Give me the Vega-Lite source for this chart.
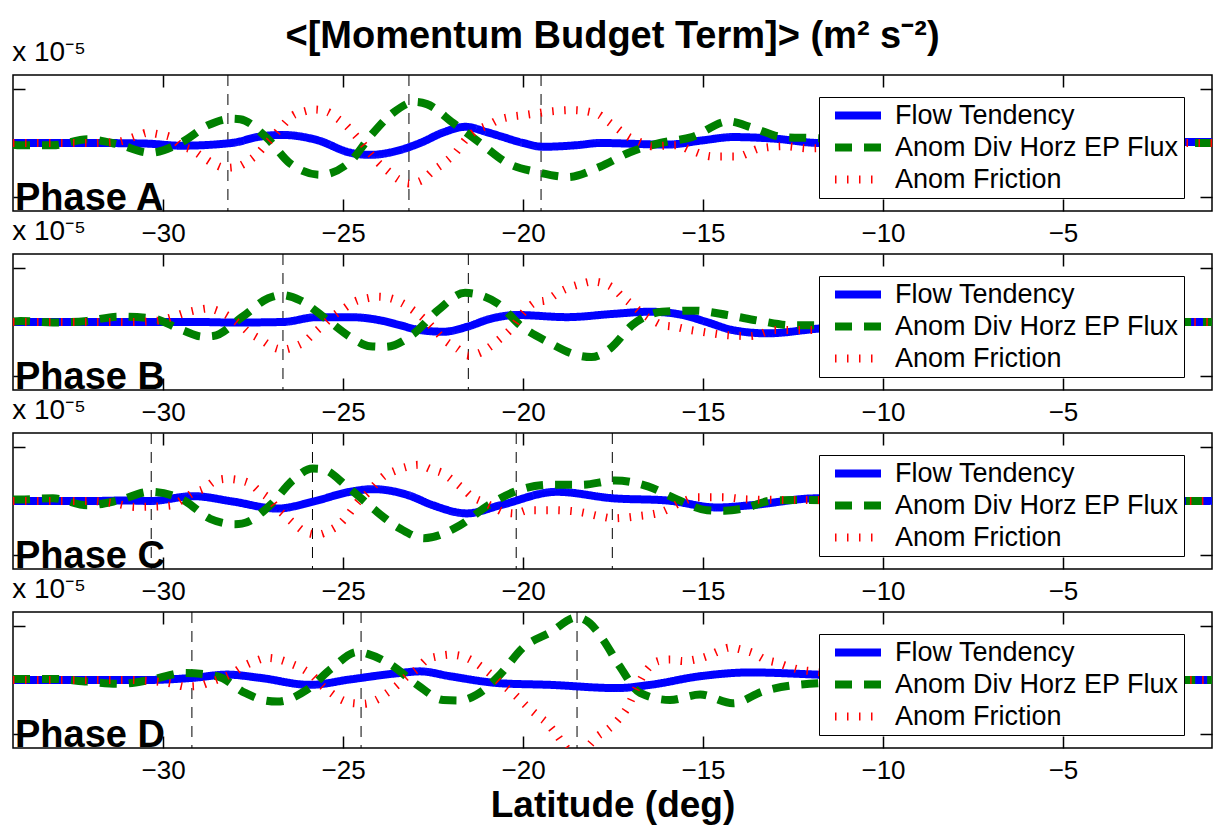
{
"$schema": "https://vega.github.io/schema/vega-lite/v6.json",
"background": "white",
"padding": {"left": 11, "top": 17, "right": 2, "bottom": 2},
"title": {"text": "<[Momentum Budget Term]> (m² s⁻²)", "fontSize": 38, "fontWeight": "bold", "anchor": "middle", "offset": -17, "color": "black", "font": "Liberation Sans"},
"spacing": 43,
"bounds": "flush",
"resolve": {"legend": {"color": "independent", "strokeDash": "independent"}},
"datasets": {
"marks": [
{"p":"A","lat":-28.2},{"p":"A","lat":-23.17},{"p":"A","lat":-19.5},
{"p":"B","lat":-26.67},{"p":"B","lat":-21.52},
{"p":"C","lat":-30.33},{"p":"C","lat":-25.85},{"p":"C","lat":-20.19},{"p":"C","lat":-17.52},
{"p":"D","lat":-29.2},{"p":"D","lat":-24.5},{"p":"D","lat":-18.5}
],
"curves": [
{"p":"A","s":"Flow Tendency","lat":-34.17,"v":0},{"p":"A","s":"Flow Tendency","lat":-32,"v":0},{"p":"A","s":"Flow Tendency","lat":-30.5,"v":-0.01},{"p":"A","s":"Flow Tendency","lat":-29.5,"v":-0.05},{"p":"A","s":"Flow Tendency","lat":-28.1,"v":0},{"p":"A","s":"Flow Tendency","lat":-27.3,"v":0.12},{"p":"A","s":"Flow Tendency","lat":-26.7,"v":0.15},{"p":"A","s":"Flow Tendency","lat":-25.7,"v":0.05},{"p":"A","s":"Flow Tendency","lat":-24.8,"v":-0.18},{"p":"A","s":"Flow Tendency","lat":-24.25,"v":-0.22},{"p":"A","s":"Flow Tendency","lat":-23.42,"v":-0.13},{"p":"A","s":"Flow Tendency","lat":-22.86,"v":0},{"p":"A","s":"Flow Tendency","lat":-22.2,"v":0.2},{"p":"A","s":"Flow Tendency","lat":-21.6,"v":0.3},{"p":"A","s":"Flow Tendency","lat":-21.0,"v":0.2},{"p":"A","s":"Flow Tendency","lat":-20.6,"v":0.12},{"p":"A","s":"Flow Tendency","lat":-20.0,"v":0.0},{"p":"A","s":"Flow Tendency","lat":-19.44,"v":-0.07},{"p":"A","s":"Flow Tendency","lat":-18.5,"v":-0.04},{"p":"A","s":"Flow Tendency","lat":-17.86,"v":0},{"p":"A","s":"Flow Tendency","lat":-16.0,"v":-0.03},{"p":"A","s":"Flow Tendency","lat":-15.0,"v":0.05},{"p":"A","s":"Flow Tendency","lat":-14.17,"v":0.11},{"p":"A","s":"Flow Tendency","lat":-13.0,"v":0.08},{"p":"A","s":"Flow Tendency","lat":-11.75,"v":0.0},{"p":"A","s":"Flow Tendency","lat":-10,"v":0.02},{"p":"A","s":"Flow Tendency","lat":-6,"v":0.02},{"p":"A","s":"Flow Tendency","lat":-3,"v":0.02},{"p":"A","s":"Flow Tendency","lat":-0.86,"v":0.02},
{"p":"A","s":"Anom Div Horz EP Flux","lat":-34.17,"v":-0.03},{"p":"A","s":"Anom Div Horz EP Flux","lat":-33.97,"v":-0.04},{"p":"A","s":"Anom Div Horz EP Flux","lat":-33.06,"v":-0.04},{"p":"A","s":"Anom Div Horz EP Flux","lat":-32.11,"v":0.07},{"p":"A","s":"Anom Div Horz EP Flux","lat":-31.28,"v":-0.02},{"p":"A","s":"Anom Div Horz EP Flux","lat":-30.36,"v":-0.18},{"p":"A","s":"Anom Div Horz EP Flux","lat":-29.47,"v":0.02},{"p":"A","s":"Anom Div Horz EP Flux","lat":-28.75,"v":0.33},{"p":"A","s":"Anom Div Horz EP Flux","lat":-28.1,"v":0.45},{"p":"A","s":"Anom Div Horz EP Flux","lat":-27.86,"v":0.44},{"p":"A","s":"Anom Div Horz EP Flux","lat":-27.11,"v":0.09},{"p":"A","s":"Anom Div Horz EP Flux","lat":-26.47,"v":-0.38},{"p":"A","s":"Anom Div Horz EP Flux","lat":-25.64,"v":-0.59},{"p":"A","s":"Anom Div Horz EP Flux","lat":-24.81,"v":-0.35},{"p":"A","s":"Anom Div Horz EP Flux","lat":-24.25,"v":0.12},{"p":"A","s":"Anom Div Horz EP Flux","lat":-23.61,"v":0.56},{"p":"A","s":"Anom Div Horz EP Flux","lat":-23.0,"v":0.76},{"p":"A","s":"Anom Div Horz EP Flux","lat":-22.67,"v":0.72},{"p":"A","s":"Anom Div Horz EP Flux","lat":-21.94,"v":0.37},{"p":"A","s":"Anom Div Horz EP Flux","lat":-21.19,"v":0},{"p":"A","s":"Anom Div Horz EP Flux","lat":-20.44,"v":-0.37},{"p":"A","s":"Anom Div Horz EP Flux","lat":-19.61,"v":-0.54},{"p":"A","s":"Anom Div Horz EP Flux","lat":-18.75,"v":-0.63},{"p":"A","s":"Anom Div Horz EP Flux","lat":-17.86,"v":-0.44},{"p":"A","s":"Anom Div Horz EP Flux","lat":-17.03,"v":-0.17},{"p":"A","s":"Anom Div Horz EP Flux","lat":-16.19,"v":0},{"p":"A","s":"Anom Div Horz EP Flux","lat":-15.31,"v":0.11},{"p":"A","s":"Anom Div Horz EP Flux","lat":-14.3,"v":0.4},{"p":"A","s":"Anom Div Horz EP Flux","lat":-13.61,"v":0.28},{"p":"A","s":"Anom Div Horz EP Flux","lat":-12.78,"v":0.11},{"p":"A","s":"Anom Div Horz EP Flux","lat":-11.89,"v":0.09},{"p":"A","s":"Anom Div Horz EP Flux","lat":-10,"v":0.02},{"p":"A","s":"Anom Div Horz EP Flux","lat":-6,"v":0},{"p":"A","s":"Anom Div Horz EP Flux","lat":-3,"v":0},{"p":"A","s":"Anom Div Horz EP Flux","lat":-0.86,"v":0},
{"p":"A","s":"Anom Friction","lat":-34.17,"v":0},{"p":"A","s":"Anom Friction","lat":-33,"v":0},{"p":"A","s":"Anom Friction","lat":-32,"v":0},{"p":"A","s":"Anom Friction","lat":-31.3,"v":0.02},{"p":"A","s":"Anom Friction","lat":-30.72,"v":0.13},{"p":"A","s":"Anom Friction","lat":-30.44,"v":0.19},{"p":"A","s":"Anom Friction","lat":-30.11,"v":0.16},{"p":"A","s":"Anom Friction","lat":-29.75,"v":0.1},{"p":"A","s":"Anom Friction","lat":-29.53,"v":-0.04},{"p":"A","s":"Anom Friction","lat":-29.19,"v":-0.13},{"p":"A","s":"Anom Friction","lat":-28.92,"v":-0.25},{"p":"A","s":"Anom Friction","lat":-28.61,"v":-0.38},{"p":"A","s":"Anom Friction","lat":-28.28,"v":-0.46},{"p":"A","s":"Anom Friction","lat":-27.94,"v":-0.44},{"p":"A","s":"Anom Friction","lat":-27.67,"v":-0.35},{"p":"A","s":"Anom Friction","lat":-27.36,"v":-0.19},{"p":"A","s":"Anom Friction","lat":-27.11,"v":0},{"p":"A","s":"Anom Friction","lat":-26.94,"v":0.12},{"p":"A","s":"Anom Friction","lat":-26.67,"v":0.33},{"p":"A","s":"Anom Friction","lat":-26.42,"v":0.5},{"p":"A","s":"Anom Friction","lat":-26.11,"v":0.58},{"p":"A","s":"Anom Friction","lat":-25.78,"v":0.62},{"p":"A","s":"Anom Friction","lat":-25.44,"v":0.58},{"p":"A","s":"Anom Friction","lat":-25.17,"v":0.46},{"p":"A","s":"Anom Friction","lat":-24.89,"v":0.31},{"p":"A","s":"Anom Friction","lat":-24.67,"v":0.15},{"p":"A","s":"Anom Friction","lat":-24.47,"v":0},{"p":"A","s":"Anom Friction","lat":-24.25,"v":-0.19},{"p":"A","s":"Anom Friction","lat":-24.03,"v":-0.36},{"p":"A","s":"Anom Friction","lat":-23.75,"v":-0.52},{"p":"A","s":"Anom Friction","lat":-23.47,"v":-0.67},{"p":"A","s":"Anom Friction","lat":-23.17,"v":-0.75},{"p":"A","s":"Anom Friction","lat":-22.81,"v":-0.69},{"p":"A","s":"Anom Friction","lat":-22.53,"v":-0.53},{"p":"A","s":"Anom Friction","lat":-22.22,"v":-0.38},{"p":"A","s":"Anom Friction","lat":-21.89,"v":-0.19},{"p":"A","s":"Anom Friction","lat":-21.56,"v":0.09},{"p":"A","s":"Anom Friction","lat":-21.28,"v":0.24},{"p":"A","s":"Anom Friction","lat":-20.97,"v":0.33},{"p":"A","s":"Anom Friction","lat":-20.64,"v":0.44},{"p":"A","s":"Anom Friction","lat":-20.31,"v":0.49},{"p":"A","s":"Anom Friction","lat":-19.94,"v":0.52},{"p":"A","s":"Anom Friction","lat":-19.31,"v":0.58},{"p":"A","s":"Anom Friction","lat":-18.61,"v":0.61},{"p":"A","s":"Anom Friction","lat":-17.94,"v":0.54},{"p":"A","s":"Anom Friction","lat":-17.64,"v":0.4},{"p":"A","s":"Anom Friction","lat":-17.36,"v":0.26},{"p":"A","s":"Anom Friction","lat":-17.08,"v":0.12},{"p":"A","s":"Anom Friction","lat":-16.75,"v":0.02},{"p":"A","s":"Anom Friction","lat":-16.42,"v":-0.06},{"p":"A","s":"Anom Friction","lat":-15.72,"v":-0.04},{"p":"A","s":"Anom Friction","lat":-15.36,"v":-0.13},{"p":"A","s":"Anom Friction","lat":-14.72,"v":-0.25},{"p":"A","s":"Anom Friction","lat":-14.06,"v":-0.25},{"p":"A","s":"Anom Friction","lat":-13.42,"v":-0.1},{"p":"A","s":"Anom Friction","lat":-12.72,"v":-0.06},{"p":"A","s":"Anom Friction","lat":-12.08,"v":-0.1},{"p":"A","s":"Anom Friction","lat":-10,"v":-0.03},{"p":"A","s":"Anom Friction","lat":-6,"v":0},{"p":"A","s":"Anom Friction","lat":-3,"v":0},{"p":"A","s":"Anom Friction","lat":-0.86,"v":0},

{"p":"B","s":"Flow Tendency","lat":-34.17,"v":0},{"p":"B","s":"Flow Tendency","lat":-31,"v":0},{"p":"B","s":"Flow Tendency","lat":-29,"v":0},{"p":"B","s":"Flow Tendency","lat":-28.06,"v":-0.01},{"p":"B","s":"Flow Tendency","lat":-26.67,"v":0},{"p":"B","s":"Flow Tendency","lat":-25.72,"v":0.09},{"p":"B","s":"Flow Tendency","lat":-24.81,"v":0.09},{"p":"B","s":"Flow Tendency","lat":-23.89,"v":0.02},{"p":"B","s":"Flow Tendency","lat":-23.42,"v":-0.06},{"p":"B","s":"Flow Tendency","lat":-22.86,"v":-0.15},{"p":"B","s":"Flow Tendency","lat":-22.2,"v":-0.18},{"p":"B","s":"Flow Tendency","lat":-21.56,"v":-0.09},{"p":"B","s":"Flow Tendency","lat":-20.9,"v":0.06},{"p":"B","s":"Flow Tendency","lat":-20.17,"v":0.13},{"p":"B","s":"Flow Tendency","lat":-18.78,"v":0.09},{"p":"B","s":"Flow Tendency","lat":-17.5,"v":0.15},{"p":"B","s":"Flow Tendency","lat":-16.47,"v":0.19},{"p":"B","s":"Flow Tendency","lat":-15.56,"v":0.13},{"p":"B","s":"Flow Tendency","lat":-14.9,"v":0},{"p":"B","s":"Flow Tendency","lat":-14.17,"v":-0.15},{"p":"B","s":"Flow Tendency","lat":-13.22,"v":-0.21},{"p":"B","s":"Flow Tendency","lat":-11.75,"v":-0.12},{"p":"B","s":"Flow Tendency","lat":-10,"v":-0.05},{"p":"B","s":"Flow Tendency","lat":-6,"v":0},{"p":"B","s":"Flow Tendency","lat":-3,"v":0},{"p":"B","s":"Flow Tendency","lat":-0.86,"v":0},
{"p":"B","s":"Anom Div Horz EP Flux","lat":-34.17,"v":0.01},{"p":"B","s":"Anom Div Horz EP Flux","lat":-33.97,"v":0.02},{"p":"B","s":"Anom Div Horz EP Flux","lat":-33.06,"v":-0.01},{"p":"B","s":"Anom Div Horz EP Flux","lat":-32.11,"v":0.02},{"p":"B","s":"Anom Div Horz EP Flux","lat":-31.25,"v":0.1},{"p":"B","s":"Anom Div Horz EP Flux","lat":-30.31,"v":0.07},{"p":"B","s":"Anom Div Horz EP Flux","lat":-29.47,"v":-0.15},{"p":"B","s":"Anom Div Horz EP Flux","lat":-28.9,"v":-0.27},{"p":"B","s":"Anom Div Horz EP Flux","lat":-28.61,"v":-0.26},{"p":"B","s":"Anom Div Horz EP Flux","lat":-27.81,"v":0.09},{"p":"B","s":"Anom Div Horz EP Flux","lat":-27.08,"v":0.44},{"p":"B","s":"Anom Div Horz EP Flux","lat":-26.72,"v":0.5},{"p":"B","s":"Anom Div Horz EP Flux","lat":-26.19,"v":0.4},{"p":"B","s":"Anom Div Horz EP Flux","lat":-25.44,"v":0.04},{"p":"B","s":"Anom Div Horz EP Flux","lat":-24.72,"v":-0.31},{"p":"B","s":"Anom Div Horz EP Flux","lat":-24.25,"v":-0.45},{"p":"B","s":"Anom Div Horz EP Flux","lat":-23.83,"v":-0.46},{"p":"B","s":"Anom Div Horz EP Flux","lat":-23.06,"v":-0.23},{"p":"B","s":"Anom Div Horz EP Flux","lat":-22.36,"v":0.22},{"p":"B","s":"Anom Div Horz EP Flux","lat":-21.61,"v":0.54},{"p":"B","s":"Anom Div Horz EP Flux","lat":-20.72,"v":0.35},{"p":"B","s":"Anom Div Horz EP Flux","lat":-20.08,"v":-0.06},{"p":"B","s":"Anom Div Horz EP Flux","lat":-19.31,"v":-0.37},{"p":"B","s":"Anom Div Horz EP Flux","lat":-18.47,"v":-0.62},{"p":"B","s":"Anom Div Horz EP Flux","lat":-18.1,"v":-0.65},{"p":"B","s":"Anom Div Horz EP Flux","lat":-17.58,"v":-0.49},{"p":"B","s":"Anom Div Horz EP Flux","lat":-16.97,"v":-0.06},{"p":"B","s":"Anom Div Horz EP Flux","lat":-16.14,"v":0.19},{"p":"B","s":"Anom Div Horz EP Flux","lat":-15.22,"v":0.21},{"p":"B","s":"Anom Div Horz EP Flux","lat":-14.33,"v":0.13},{"p":"B","s":"Anom Div Horz EP Flux","lat":-13.42,"v":0.02},{"p":"B","s":"Anom Div Horz EP Flux","lat":-12.53,"v":-0.06},{"p":"B","s":"Anom Div Horz EP Flux","lat":-11.83,"v":-0.06},{"p":"B","s":"Anom Div Horz EP Flux","lat":-10,"v":-0.02},{"p":"B","s":"Anom Div Horz EP Flux","lat":-6,"v":0},{"p":"B","s":"Anom Div Horz EP Flux","lat":-3,"v":0},{"p":"B","s":"Anom Div Horz EP Flux","lat":-0.86,"v":0},
{"p":"B","s":"Anom Friction","lat":-34.17,"v":0},{"p":"B","s":"Anom Friction","lat":-31,"v":0},{"p":"B","s":"Anom Friction","lat":-30.2,"v":0.02},{"p":"B","s":"Anom Friction","lat":-29.8,"v":0.08},{"p":"B","s":"Anom Friction","lat":-29.44,"v":0.16},{"p":"B","s":"Anom Friction","lat":-29.06,"v":0.22},{"p":"B","s":"Anom Friction","lat":-28.75,"v":0.25},{"p":"B","s":"Anom Friction","lat":-28.42,"v":0.19},{"p":"B","s":"Anom Friction","lat":-28.14,"v":0.09},{"p":"B","s":"Anom Friction","lat":-27.86,"v":-0.05},{"p":"B","s":"Anom Friction","lat":-27.64,"v":-0.18},{"p":"B","s":"Anom Friction","lat":-27.25,"v":-0.34},{"p":"B","s":"Anom Friction","lat":-26.97,"v":-0.46},{"p":"B","s":"Anom Friction","lat":-26.67,"v":-0.51},{"p":"B","s":"Anom Friction","lat":-26.36,"v":-0.46},{"p":"B","s":"Anom Friction","lat":-26.08,"v":-0.37},{"p":"B","s":"Anom Friction","lat":-25.81,"v":-0.21},{"p":"B","s":"Anom Friction","lat":-25.56,"v":-0.06},{"p":"B","s":"Anom Friction","lat":-25.28,"v":0.11},{"p":"B","s":"Anom Friction","lat":-25.0,"v":0.24},{"p":"B","s":"Anom Friction","lat":-24.67,"v":0.38},{"p":"B","s":"Anom Friction","lat":-24.33,"v":0.44},{"p":"B","s":"Anom Friction","lat":-24.03,"v":0.47},{"p":"B","s":"Anom Friction","lat":-23.69,"v":0.44},{"p":"B","s":"Anom Friction","lat":-23.36,"v":0.35},{"p":"B","s":"Anom Friction","lat":-23.06,"v":0.22},{"p":"B","s":"Anom Friction","lat":-22.72,"v":0.04},{"p":"B","s":"Anom Friction","lat":-22.44,"v":-0.15},{"p":"B","s":"Anom Friction","lat":-22.17,"v":-0.34},{"p":"B","s":"Anom Friction","lat":-21.83,"v":-0.49},{"p":"B","s":"Anom Friction","lat":-21.53,"v":-0.62},{"p":"B","s":"Anom Friction","lat":-21.19,"v":-0.57},{"p":"B","s":"Anom Friction","lat":-20.92,"v":-0.46},{"p":"B","s":"Anom Friction","lat":-20.64,"v":-0.31},{"p":"B","s":"Anom Friction","lat":-20.36,"v":-0.15},{"p":"B","s":"Anom Friction","lat":-20.0,"v":0.17},{"p":"B","s":"Anom Friction","lat":-19.67,"v":0.36},{"p":"B","s":"Anom Friction","lat":-19.33,"v":0.41},{"p":"B","s":"Anom Friction","lat":-19.03,"v":0.54},{"p":"B","s":"Anom Friction","lat":-18.75,"v":0.63},{"p":"B","s":"Anom Friction","lat":-18.42,"v":0.7},{"p":"B","s":"Anom Friction","lat":-18.08,"v":0.75},{"p":"B","s":"Anom Friction","lat":-17.78,"v":0.72},{"p":"B","s":"Anom Friction","lat":-17.5,"v":0.63},{"p":"B","s":"Anom Friction","lat":-17.25,"v":0.47},{"p":"B","s":"Anom Friction","lat":-16.97,"v":0.32},{"p":"B","s":"Anom Friction","lat":-16.69,"v":0.16},{"p":"B","s":"Anom Friction","lat":-16.42,"v":0.04},{"p":"B","s":"Anom Friction","lat":-16.11,"v":-0.06},{"p":"B","s":"Anom Friction","lat":-15.78,"v":-0.09},{"p":"B","s":"Anom Friction","lat":-15.42,"v":-0.14},{"p":"B","s":"Anom Friction","lat":-15.03,"v":-0.18},{"p":"B","s":"Anom Friction","lat":-14.39,"v":-0.24},{"p":"B","s":"Anom Friction","lat":-13.69,"v":-0.26},{"p":"B","s":"Anom Friction","lat":-13.0,"v":-0.15},{"p":"B","s":"Anom Friction","lat":-11.97,"v":-0.15},{"p":"B","s":"Anom Friction","lat":-10,"v":-0.05},{"p":"B","s":"Anom Friction","lat":-6,"v":0},{"p":"B","s":"Anom Friction","lat":-3,"v":0},{"p":"B","s":"Anom Friction","lat":-0.86,"v":0},

{"p":"C","s":"Flow Tendency","lat":-34.17,"v":0},{"p":"C","s":"Flow Tendency","lat":-32,"v":0},{"p":"C","s":"Flow Tendency","lat":-31,"v":0.01},{"p":"C","s":"Flow Tendency","lat":-30.36,"v":0},{"p":"C","s":"Flow Tendency","lat":-29.17,"v":0.09},{"p":"C","s":"Flow Tendency","lat":-28.06,"v":-0.01},{"p":"C","s":"Flow Tendency","lat":-26.83,"v":-0.14},{"p":"C","s":"Flow Tendency","lat":-25.83,"v":-0.01},{"p":"C","s":"Flow Tendency","lat":-24.81,"v":0.17},{"p":"C","s":"Flow Tendency","lat":-24.17,"v":0.22},{"p":"C","s":"Flow Tendency","lat":-23.2,"v":0.11},{"p":"C","s":"Flow Tendency","lat":-22.5,"v":-0.08},{"p":"C","s":"Flow Tendency","lat":-21.56,"v":-0.23},{"p":"C","s":"Flow Tendency","lat":-20.64,"v":-0.08},{"p":"C","s":"Flow Tendency","lat":-19.06,"v":0.17},{"p":"C","s":"Flow Tendency","lat":-17.5,"v":0.05},{"p":"C","s":"Flow Tendency","lat":-16.0,"v":0.01},{"p":"C","s":"Flow Tendency","lat":-14.61,"v":-0.12},{"p":"C","s":"Flow Tendency","lat":-13.69,"v":-0.08},{"p":"C","s":"Flow Tendency","lat":-11.83,"v":0.05},{"p":"C","s":"Flow Tendency","lat":-10,"v":0.02},{"p":"C","s":"Flow Tendency","lat":-6,"v":0},{"p":"C","s":"Flow Tendency","lat":-3,"v":0},{"p":"C","s":"Flow Tendency","lat":-0.86,"v":0},
{"p":"C","s":"Anom Div Horz EP Flux","lat":-34.17,"v":0.03},{"p":"C","s":"Anom Div Horz EP Flux","lat":-33.97,"v":0.03},{"p":"C","s":"Anom Div Horz EP Flux","lat":-33.06,"v":0.05},{"p":"C","s":"Anom Div Horz EP Flux","lat":-32.11,"v":-0.08},{"p":"C","s":"Anom Div Horz EP Flux","lat":-31.25,"v":0.01},{"p":"C","s":"Anom Div Horz EP Flux","lat":-30.36,"v":0.17},{"p":"C","s":"Anom Div Horz EP Flux","lat":-29.47,"v":0.03},{"p":"C","s":"Anom Div Horz EP Flux","lat":-28.69,"v":-0.33},{"p":"C","s":"Anom Div Horz EP Flux","lat":-28.0,"v":-0.43},{"p":"C","s":"Anom Div Horz EP Flux","lat":-27.81,"v":-0.42},{"p":"C","s":"Anom Div Horz EP Flux","lat":-27.03,"v":-0.08},{"p":"C","s":"Anom Div Horz EP Flux","lat":-26.39,"v":0.39},{"p":"C","s":"Anom Div Horz EP Flux","lat":-25.85,"v":0.6},{"p":"C","s":"Anom Div Horz EP Flux","lat":-25.58,"v":0.59},{"p":"C","s":"Anom Div Horz EP Flux","lat":-24.89,"v":0.27},{"p":"C","s":"Anom Div Horz EP Flux","lat":-24.17,"v":-0.14},{"p":"C","s":"Anom Div Horz EP Flux","lat":-23.42,"v":-0.51},{"p":"C","s":"Anom Div Horz EP Flux","lat":-22.75,"v":-0.69},{"p":"C","s":"Anom Div Horz EP Flux","lat":-21.75,"v":-0.45},{"p":"C","s":"Anom Div Horz EP Flux","lat":-20.97,"v":-0.08},{"p":"C","s":"Anom Div Horz EP Flux","lat":-20.08,"v":0.21},{"p":"C","s":"Anom Div Horz EP Flux","lat":-19.25,"v":0.3},{"p":"C","s":"Anom Div Horz EP Flux","lat":-18.36,"v":0.3},{"p":"C","s":"Anom Div Horz EP Flux","lat":-17.44,"v":0.38},{"p":"C","s":"Anom Div Horz EP Flux","lat":-16.53,"v":0.27},{"p":"C","s":"Anom Div Horz EP Flux","lat":-15.72,"v":0.03},{"p":"C","s":"Anom Div Horz EP Flux","lat":-14.89,"v":-0.17},{"p":"C","s":"Anom Div Horz EP Flux","lat":-14.39,"v":-0.18},{"p":"C","s":"Anom Div Horz EP Flux","lat":-13.89,"v":-0.14},{"p":"C","s":"Anom Div Horz EP Flux","lat":-13.06,"v":0.01},{"p":"C","s":"Anom Div Horz EP Flux","lat":-12.22,"v":0.02},{"p":"C","s":"Anom Div Horz EP Flux","lat":-10,"v":0},{"p":"C","s":"Anom Div Horz EP Flux","lat":-6,"v":0},{"p":"C","s":"Anom Div Horz EP Flux","lat":-3,"v":0},{"p":"C","s":"Anom Div Horz EP Flux","lat":-0.86,"v":0},
{"p":"C","s":"Anom Friction","lat":-34.17,"v":0},{"p":"C","s":"Anom Friction","lat":-32,"v":0},{"p":"C","s":"Anom Friction","lat":-31.3,"v":-0.05},{"p":"C","s":"Anom Friction","lat":-30.78,"v":-0.11},{"p":"C","s":"Anom Friction","lat":-30.11,"v":-0.1},{"p":"C","s":"Anom Friction","lat":-29.75,"v":-0.08},{"p":"C","s":"Anom Friction","lat":-29.47,"v":0.02},{"p":"C","s":"Anom Friction","lat":-29.17,"v":0.15},{"p":"C","s":"Anom Friction","lat":-28.86,"v":0.23},{"p":"C","s":"Anom Friction","lat":-28.53,"v":0.38},{"p":"C","s":"Anom Friction","lat":-28.22,"v":0.41},{"p":"C","s":"Anom Friction","lat":-27.92,"v":0.39},{"p":"C","s":"Anom Friction","lat":-27.58,"v":0.32},{"p":"C","s":"Anom Friction","lat":-27.31,"v":0.17},{"p":"C","s":"Anom Friction","lat":-27.03,"v":0.03},{"p":"C","s":"Anom Friction","lat":-26.83,"v":-0.14},{"p":"C","s":"Anom Friction","lat":-26.58,"v":-0.29},{"p":"C","s":"Anom Friction","lat":-26.31,"v":-0.45},{"p":"C","s":"Anom Friction","lat":-26.03,"v":-0.58},{"p":"C","s":"Anom Friction","lat":-25.69,"v":-0.62},{"p":"C","s":"Anom Friction","lat":-25.36,"v":-0.54},{"p":"C","s":"Anom Friction","lat":-25.08,"v":-0.42},{"p":"C","s":"Anom Friction","lat":-24.83,"v":-0.23},{"p":"C","s":"Anom Friction","lat":-24.58,"v":-0.01},{"p":"C","s":"Anom Friction","lat":-24.33,"v":0.14},{"p":"C","s":"Anom Friction","lat":-24.11,"v":0.3},{"p":"C","s":"Anom Friction","lat":-23.89,"v":0.45},{"p":"C","s":"Anom Friction","lat":-23.56,"v":0.56},{"p":"C","s":"Anom Friction","lat":-23.25,"v":0.63},{"p":"C","s":"Anom Friction","lat":-22.92,"v":0.67},{"p":"C","s":"Anom Friction","lat":-22.53,"v":0.58},{"p":"C","s":"Anom Friction","lat":-22.25,"v":0.52},{"p":"C","s":"Anom Friction","lat":-21.97,"v":0.39},{"p":"C","s":"Anom Friction","lat":-21.69,"v":0.24},{"p":"C","s":"Anom Friction","lat":-21.42,"v":0.08},{"p":"C","s":"Anom Friction","lat":-21.14,"v":-0.01},{"p":"C","s":"Anom Friction","lat":-20.83,"v":-0.11},{"p":"C","s":"Anom Friction","lat":-20.56,"v":-0.2},{"p":"C","s":"Anom Friction","lat":-20.22,"v":-0.23},{"p":"C","s":"Anom Friction","lat":-19.86,"v":-0.17},{"p":"C","s":"Anom Friction","lat":-19.17,"v":-0.17},{"p":"C","s":"Anom Friction","lat":-18.47,"v":-0.2},{"p":"C","s":"Anom Friction","lat":-17.81,"v":-0.29},{"p":"C","s":"Anom Friction","lat":-17.5,"v":-0.32},{"p":"C","s":"Anom Friction","lat":-16.81,"v":-0.28},{"p":"C","s":"Anom Friction","lat":-16.14,"v":-0.2},{"p":"C","s":"Anom Friction","lat":-15.56,"v":-0.01},{"p":"C","s":"Anom Friction","lat":-15.17,"v":0.07},{"p":"C","s":"Anom Friction","lat":-14.47,"v":0.07},{"p":"C","s":"Anom Friction","lat":-13.78,"v":0.03},{"p":"C","s":"Anom Friction","lat":-12.81,"v":0.02},{"p":"C","s":"Anom Friction","lat":-12.08,"v":0.02},{"p":"C","s":"Anom Friction","lat":-10,"v":0},{"p":"C","s":"Anom Friction","lat":-6,"v":0},{"p":"C","s":"Anom Friction","lat":-3,"v":0},{"p":"C","s":"Anom Friction","lat":-0.86,"v":0},

{"p":"D","s":"Flow Tendency","lat":-34.17,"v":0},{"p":"D","s":"Flow Tendency","lat":-32,"v":0},{"p":"D","s":"Flow Tendency","lat":-30.5,"v":0},{"p":"D","s":"Flow Tendency","lat":-29.17,"v":0.04},{"p":"D","s":"Flow Tendency","lat":-28.22,"v":0.1},{"p":"D","s":"Flow Tendency","lat":-27.31,"v":0.04},{"p":"D","s":"Flow Tendency","lat":-25.92,"v":-0.09},{"p":"D","s":"Flow Tendency","lat":-24.81,"v":0.01},{"p":"D","s":"Flow Tendency","lat":-23.42,"v":0.13},{"p":"D","s":"Flow Tendency","lat":-22.86,"v":0.16},{"p":"D","s":"Flow Tendency","lat":-22.03,"v":0.07},{"p":"D","s":"Flow Tendency","lat":-20.64,"v":-0.06},{"p":"D","s":"Flow Tendency","lat":-19.25,"v":-0.09},{"p":"D","s":"Flow Tendency","lat":-17.39,"v":-0.15},{"p":"D","s":"Flow Tendency","lat":-16.47,"v":-0.09},{"p":"D","s":"Flow Tendency","lat":-15.08,"v":0.07},{"p":"D","s":"Flow Tendency","lat":-13.69,"v":0.14},{"p":"D","s":"Flow Tendency","lat":-11.83,"v":0.1},{"p":"D","s":"Flow Tendency","lat":-10,"v":0.05},{"p":"D","s":"Flow Tendency","lat":-6,"v":0},{"p":"D","s":"Flow Tendency","lat":-3,"v":0},{"p":"D","s":"Flow Tendency","lat":-0.86,"v":0},
{"p":"D","s":"Anom Div Horz EP Flux","lat":-34.17,"v":0.02},{"p":"D","s":"Anom Div Horz EP Flux","lat":-33.97,"v":0.02},{"p":"D","s":"Anom Div Horz EP Flux","lat":-33.06,"v":0.02},{"p":"D","s":"Anom Div Horz EP Flux","lat":-32.11,"v":-0.03},{"p":"D","s":"Anom Div Horz EP Flux","lat":-31.19,"v":-0.07},{"p":"D","s":"Anom Div Horz EP Flux","lat":-30.31,"v":0.01},{"p":"D","s":"Anom Div Horz EP Flux","lat":-29.44,"v":0.13},{"p":"D","s":"Anom Div Horz EP Flux","lat":-28.5,"v":0.07},{"p":"D","s":"Anom Div Horz EP Flux","lat":-27.72,"v":-0.24},{"p":"D","s":"Anom Div Horz EP Flux","lat":-27.17,"v":-0.38},{"p":"D","s":"Anom Div Horz EP Flux","lat":-26.83,"v":-0.4},{"p":"D","s":"Anom Div Horz EP Flux","lat":-26.0,"v":-0.18},{"p":"D","s":"Anom Div Horz EP Flux","lat":-25.31,"v":0.22},{"p":"D","s":"Anom Div Horz EP Flux","lat":-24.6,"v":0.52},{"p":"D","s":"Anom Div Horz EP Flux","lat":-24.3,"v":0.48},{"p":"D","s":"Anom Div Horz EP Flux","lat":-23.69,"v":0.29},{"p":"D","s":"Anom Div Horz EP Flux","lat":-22.94,"v":-0.09},{"p":"D","s":"Anom Div Horz EP Flux","lat":-22.22,"v":-0.37},{"p":"D","s":"Anom Div Horz EP Flux","lat":-21.75,"v":-0.38},{"p":"D","s":"Anom Div Horz EP Flux","lat":-21.28,"v":-0.27},{"p":"D","s":"Anom Div Horz EP Flux","lat":-20.64,"v":0.1},{"p":"D","s":"Anom Div Horz EP Flux","lat":-20.0,"v":0.6},{"p":"D","s":"Anom Div Horz EP Flux","lat":-19.25,"v":0.88},{"p":"D","s":"Anom Div Horz EP Flux","lat":-18.5,"v":1.16},{"p":"D","s":"Anom Div Horz EP Flux","lat":-18.14,"v":1.05},{"p":"D","s":"Anom Div Horz EP Flux","lat":-17.78,"v":0.75},{"p":"D","s":"Anom Div Horz EP Flux","lat":-17.31,"v":0.25},{"p":"D","s":"Anom Div Horz EP Flux","lat":-16.75,"v":-0.24},{"p":"D","s":"Anom Div Horz EP Flux","lat":-15.92,"v":-0.37},{"p":"D","s":"Anom Div Horz EP Flux","lat":-15.08,"v":-0.27},{"p":"D","s":"Anom Div Horz EP Flux","lat":-14.17,"v":-0.43},{"p":"D","s":"Anom Div Horz EP Flux","lat":-13.33,"v":-0.21},{"p":"D","s":"Anom Div Horz EP Flux","lat":-12.39,"v":-0.09},{"p":"D","s":"Anom Div Horz EP Flux","lat":-10,"v":-0.02},{"p":"D","s":"Anom Div Horz EP Flux","lat":-6,"v":0},{"p":"D","s":"Anom Div Horz EP Flux","lat":-3,"v":0},{"p":"D","s":"Anom Div Horz EP Flux","lat":-0.86,"v":0},
{"p":"D","s":"Anom Friction","lat":-34.17,"v":0},{"p":"D","s":"Anom Friction","lat":-32,"v":0},{"p":"D","s":"Anom Friction","lat":-31,"v":0},{"p":"D","s":"Anom Friction","lat":-30.3,"v":-0.02},{"p":"D","s":"Anom Friction","lat":-29.72,"v":-0.07},{"p":"D","s":"Anom Friction","lat":-29.39,"v":-0.12},{"p":"D","s":"Anom Friction","lat":-29.03,"v":-0.11},{"p":"D","s":"Anom Friction","lat":-28.69,"v":-0.04},{"p":"D","s":"Anom Friction","lat":-28.36,"v":0.04},{"p":"D","s":"Anom Friction","lat":-28.06,"v":0.13},{"p":"D","s":"Anom Friction","lat":-27.78,"v":0.25},{"p":"D","s":"Anom Friction","lat":-27.44,"v":0.35},{"p":"D","s":"Anom Friction","lat":-27.11,"v":0.41},{"p":"D","s":"Anom Friction","lat":-26.78,"v":0.38},{"p":"D","s":"Anom Friction","lat":-26.44,"v":0.3},{"p":"D","s":"Anom Friction","lat":-26.11,"v":0.2},{"p":"D","s":"Anom Friction","lat":-25.83,"v":0.07},{"p":"D","s":"Anom Friction","lat":-25.56,"v":-0.12},{"p":"D","s":"Anom Friction","lat":-25.33,"v":-0.24},{"p":"D","s":"Anom Friction","lat":-25.06,"v":-0.36},{"p":"D","s":"Anom Friction","lat":-24.72,"v":-0.43},{"p":"D","s":"Anom Friction","lat":-24.42,"v":-0.44},{"p":"D","s":"Anom Friction","lat":-24.08,"v":-0.37},{"p":"D","s":"Anom Friction","lat":-23.78,"v":-0.24},{"p":"D","s":"Anom Friction","lat":-23.5,"v":-0.1},{"p":"D","s":"Anom Friction","lat":-23.22,"v":0.07},{"p":"D","s":"Anom Friction","lat":-22.97,"v":0.19},{"p":"D","s":"Anom Friction","lat":-22.67,"v":0.38},{"p":"D","s":"Anom Friction","lat":-22.36,"v":0.44},{"p":"D","s":"Anom Friction","lat":-22.03,"v":0.47},{"p":"D","s":"Anom Friction","lat":-21.69,"v":0.44},{"p":"D","s":"Anom Friction","lat":-21.39,"v":0.35},{"p":"D","s":"Anom Friction","lat":-21.11,"v":0.22},{"p":"D","s":"Anom Friction","lat":-20.83,"v":0.07},{"p":"D","s":"Anom Friction","lat":-20.56,"v":-0.09},{"p":"D","s":"Anom Friction","lat":-20.22,"v":-0.28},{"p":"D","s":"Anom Friction","lat":-19.89,"v":-0.49},{"p":"D","s":"Anom Friction","lat":-19.61,"v":-0.65},{"p":"D","s":"Anom Friction","lat":-19.33,"v":-0.8},{"p":"D","s":"Anom Friction","lat":-19.06,"v":-1.02},{"p":"D","s":"Anom Friction","lat":-18.83,"v":-1.23},{"p":"D","s":"Anom Friction","lat":-18.5,"v":-1.45},{"p":"D","s":"Anom Friction","lat":-18.19,"v":-1.23},{"p":"D","s":"Anom Friction","lat":-17.94,"v":-1.05},{"p":"D","s":"Anom Friction","lat":-17.67,"v":-0.93},{"p":"D","s":"Anom Friction","lat":-17.36,"v":-0.74},{"p":"D","s":"Anom Friction","lat":-17.11,"v":-0.52},{"p":"D","s":"Anom Friction","lat":-16.83,"v":-0.12},{"p":"D","s":"Anom Friction","lat":-16.56,"v":0.19},{"p":"D","s":"Anom Friction","lat":-16.25,"v":0.35},{"p":"D","s":"Anom Friction","lat":-15.92,"v":0.38},{"p":"D","s":"Anom Friction","lat":-15.56,"v":0.35},{"p":"D","s":"Anom Friction","lat":-15.22,"v":0.38},{"p":"D","s":"Anom Friction","lat":-14.89,"v":0.44},{"p":"D","s":"Anom Friction","lat":-14.58,"v":0.53},{"p":"D","s":"Anom Friction","lat":-14.25,"v":0.6},{"p":"D","s":"Anom Friction","lat":-13.92,"v":0.56},{"p":"D","s":"Anom Friction","lat":-13.61,"v":0.5},{"p":"D","s":"Anom Friction","lat":-13.28,"v":0.38},{"p":"D","s":"Anom Friction","lat":-12.94,"v":0.32},{"p":"D","s":"Anom Friction","lat":-12.64,"v":0.25},{"p":"D","s":"Anom Friction","lat":-12.31,"v":0.19},{"p":"D","s":"Anom Friction","lat":-11.94,"v":0.16},{"p":"D","s":"Anom Friction","lat":-10,"v":0.04},{"p":"D","s":"Anom Friction","lat":-6,"v":0},{"p":"D","s":"Anom Friction","lat":-3,"v":0},{"p":"D","s":"Anom Friction","lat":-0.86,"v":0}
]
},
"vconcat": [
{
"width": 1199, "height": 136,
"title": {"text": "x 10⁻⁵", "anchor": "start", "fontSize": 28, "fontWeight": "normal", "offset": 7, "color": "black"},
"resolve": {"axis": {"x": "independent", "y": "independent"}},
"layer": [
{"data": {"name": "marks"}, "transform": [{"filter": "datum.p == 'A'"}],
 "mark": {"type": "rule", "color": "black", "strokeWidth": 1, "strokeDash": [11, 8]},
 "encoding": {"x": {"field": "lat", "type": "quantitative", "scale": {"domain": [-34.17, -0.86], "nice": false, "zero": false}, "axis": null}}},
{"data": {"name": "curves"}, "transform": [{"filter": "datum.p == 'A' && datum.s == 'Flow Tendency'"}],
 "mark": {"type": "line", "strokeWidth": 8, "interpolate": "monotone", "clip": true},
 "encoding": {
  "x": {"field": "lat", "type": "quantitative", "scale": {"domain": [-34.17, -0.86], "nice": false, "zero": false}, "axis": {"orient": "bottom", "values": [-30, -25, -20, -15, -10, -5], "tickSize": -12, "labelPadding": 21, "title": null}},
  "y": {"field": "v", "type": "quantitative", "scale": {"domain": [-1.26, 1.26], "nice": false, "zero": false}, "axis": {"orient": "left", "values": [-1, 1], "labels": false, "tickSize": -12, "title": null}},
  "color": {"field": "s", "type": "nominal", "scale": {"domain": ["Flow Tendency", "Anom Div Horz EP Flux", "Anom Friction"], "range": ["#0000ff", "#008000", "#ff0000"]}, "legend": {"title": null, "orient": "none", "legendX": 806, "legendY": 22}},
  "strokeDash": {"field": "s", "type": "nominal", "scale": {"domain": ["Flow Tendency", "Anom Div Horz EP Flux", "Anom Friction"], "range": [[1, 0], [17, 12], [1.5, 10.5]]}, "legend": {"title": null, "orient": "none", "legendX": 806, "legendY": 22}}
 }},
{"data": {"name": "curves"}, "transform": [{"filter": "datum.p == 'A' && datum.s == 'Anom Div Horz EP Flux'"}],
 "mark": {"type": "line", "strokeWidth": 8, "interpolate": "monotone", "clip": true},
 "encoding": {
  "x": {"field": "lat", "type": "quantitative", "scale": {"domain": [-34.17, -0.86], "nice": false, "zero": false}, "axis": {"orient": "top", "values": [-30, -25, -20, -15, -10, -5], "labels": false, "tickSize": -12, "title": null}},
  "y": {"field": "v", "type": "quantitative", "scale": {"domain": [-1.26, 1.26], "nice": false, "zero": false}, "axis": {"orient": "right", "values": [-1, 1], "labels": false, "tickSize": -12, "title": null}},
  "color": {"field": "s", "type": "nominal", "scale": {"domain": ["Flow Tendency", "Anom Div Horz EP Flux", "Anom Friction"], "range": ["#0000ff", "#008000", "#ff0000"]}},
  "strokeDash": {"field": "s", "type": "nominal", "scale": {"domain": ["Flow Tendency", "Anom Div Horz EP Flux", "Anom Friction"], "range": [[1, 0], [17, 12], [1.5, 10.5]]}}
 }},
{"data": {"name": "curves"}, "transform": [{"filter": "datum.p == 'A' && datum.s == 'Anom Friction'"}],
 "mark": {"type": "line", "strokeWidth": 8, "interpolate": "monotone", "clip": true},
 "encoding": {
  "x": {"field": "lat", "type": "quantitative", "scale": {"domain": [-34.17, -0.86], "nice": false, "zero": false}, "axis": null},
  "y": {"field": "v", "type": "quantitative", "scale": {"domain": [-1.26, 1.26], "nice": false, "zero": false}, "axis": null},
  "color": {"field": "s", "type": "nominal", "scale": {"domain": ["Flow Tendency", "Anom Div Horz EP Flux", "Anom Friction"], "range": ["#0000ff", "#008000", "#ff0000"]}},
  "strokeDash": {"field": "s", "type": "nominal", "scale": {"domain": ["Flow Tendency", "Anom Div Horz EP Flux", "Anom Friction"], "range": [[1, 0], [17, 12], [1.5, 10.5]]}}
 }},
{"data": {"values": [{"label": "Phase A"}]},
 "mark": {"type": "text", "align": "left", "baseline": "alphabetic", "fontSize": 38, "fontWeight": "bold", "dx": 2, "dy": -1, "color": "black"},
 "encoding": {
  "x": {"datum": -34.17, "type": "quantitative", "scale": {"domain": [-34.17, -0.86], "nice": false, "zero": false}, "axis": null},
  "y": {"datum": -1.26, "type": "quantitative", "scale": {"domain": [-1.26, 1.26], "nice": false, "zero": false}, "axis": null},
  "text": {"field": "label"}
 }}
]
},
{
"width": 1199, "height": 136,
"title": {"text": "x 10⁻⁵", "anchor": "start", "fontSize": 28, "fontWeight": "normal", "offset": 7, "color": "black"},
"resolve": {"axis": {"x": "independent", "y": "independent"}},
"layer": [
{"data": {"name": "marks"}, "transform": [{"filter": "datum.p == 'B'"}],
 "mark": {"type": "rule", "color": "black", "strokeWidth": 1, "strokeDash": [11, 8]},
 "encoding": {"x": {"field": "lat", "type": "quantitative", "scale": {"domain": [-34.17, -0.86], "nice": false, "zero": false}, "axis": null}}},
{"data": {"name": "curves"}, "transform": [{"filter": "datum.p == 'B' && datum.s == 'Flow Tendency'"}],
 "mark": {"type": "line", "strokeWidth": 8, "interpolate": "monotone", "clip": true},
 "encoding": {
  "x": {"field": "lat", "type": "quantitative", "scale": {"domain": [-34.17, -0.86], "nice": false, "zero": false}, "axis": {"orient": "bottom", "values": [-30, -25, -20, -15, -10, -5], "tickSize": -12, "labelPadding": 21, "title": null}},
  "y": {"field": "v", "type": "quantitative", "scale": {"domain": [-1.26, 1.26], "nice": false, "zero": false}, "axis": {"orient": "left", "values": [-1, 1], "labels": false, "tickSize": -12, "title": null}},
  "color": {"field": "s", "type": "nominal", "scale": {"domain": ["Flow Tendency", "Anom Div Horz EP Flux", "Anom Friction"], "range": ["#0000ff", "#008000", "#ff0000"]}, "legend": {"title": null, "orient": "none", "legendX": 806, "legendY": 22}},
  "strokeDash": {"field": "s", "type": "nominal", "scale": {"domain": ["Flow Tendency", "Anom Div Horz EP Flux", "Anom Friction"], "range": [[1, 0], [17, 12], [1.5, 10.5]]}, "legend": {"title": null, "orient": "none", "legendX": 806, "legendY": 22}}
 }},
{"data": {"name": "curves"}, "transform": [{"filter": "datum.p == 'B' && datum.s == 'Anom Div Horz EP Flux'"}],
 "mark": {"type": "line", "strokeWidth": 8, "interpolate": "monotone", "clip": true},
 "encoding": {
  "x": {"field": "lat", "type": "quantitative", "scale": {"domain": [-34.17, -0.86], "nice": false, "zero": false}, "axis": {"orient": "top", "values": [-30, -25, -20, -15, -10, -5], "labels": false, "tickSize": -12, "title": null}},
  "y": {"field": "v", "type": "quantitative", "scale": {"domain": [-1.26, 1.26], "nice": false, "zero": false}, "axis": {"orient": "right", "values": [-1, 1], "labels": false, "tickSize": -12, "title": null}},
  "color": {"field": "s", "type": "nominal", "scale": {"domain": ["Flow Tendency", "Anom Div Horz EP Flux", "Anom Friction"], "range": ["#0000ff", "#008000", "#ff0000"]}},
  "strokeDash": {"field": "s", "type": "nominal", "scale": {"domain": ["Flow Tendency", "Anom Div Horz EP Flux", "Anom Friction"], "range": [[1, 0], [17, 12], [1.5, 10.5]]}}
 }},
{"data": {"name": "curves"}, "transform": [{"filter": "datum.p == 'B' && datum.s == 'Anom Friction'"}],
 "mark": {"type": "line", "strokeWidth": 8, "interpolate": "monotone", "clip": true},
 "encoding": {
  "x": {"field": "lat", "type": "quantitative", "scale": {"domain": [-34.17, -0.86], "nice": false, "zero": false}, "axis": null},
  "y": {"field": "v", "type": "quantitative", "scale": {"domain": [-1.26, 1.26], "nice": false, "zero": false}, "axis": null},
  "color": {"field": "s", "type": "nominal", "scale": {"domain": ["Flow Tendency", "Anom Div Horz EP Flux", "Anom Friction"], "range": ["#0000ff", "#008000", "#ff0000"]}},
  "strokeDash": {"field": "s", "type": "nominal", "scale": {"domain": ["Flow Tendency", "Anom Div Horz EP Flux", "Anom Friction"], "range": [[1, 0], [17, 12], [1.5, 10.5]]}}
 }},
{"data": {"values": [{"label": "Phase B"}]},
 "mark": {"type": "text", "align": "left", "baseline": "alphabetic", "fontSize": 38, "fontWeight": "bold", "dx": 2, "dy": -1, "color": "black"},
 "encoding": {
  "x": {"datum": -34.17, "type": "quantitative", "scale": {"domain": [-34.17, -0.86], "nice": false, "zero": false}, "axis": null},
  "y": {"datum": -1.26, "type": "quantitative", "scale": {"domain": [-1.26, 1.26], "nice": false, "zero": false}, "axis": null},
  "text": {"field": "label"}
 }}
]
},
{
"width": 1199, "height": 136,
"title": {"text": "x 10⁻⁵", "anchor": "start", "fontSize": 28, "fontWeight": "normal", "offset": 7, "color": "black"},
"resolve": {"axis": {"x": "independent", "y": "independent"}},
"layer": [
{"data": {"name": "marks"}, "transform": [{"filter": "datum.p == 'C'"}],
 "mark": {"type": "rule", "color": "black", "strokeWidth": 1, "strokeDash": [11, 8]},
 "encoding": {"x": {"field": "lat", "type": "quantitative", "scale": {"domain": [-34.17, -0.86], "nice": false, "zero": false}, "axis": null}}},
{"data": {"name": "curves"}, "transform": [{"filter": "datum.p == 'C' && datum.s == 'Flow Tendency'"}],
 "mark": {"type": "line", "strokeWidth": 8, "interpolate": "monotone", "clip": true},
 "encoding": {
  "x": {"field": "lat", "type": "quantitative", "scale": {"domain": [-34.17, -0.86], "nice": false, "zero": false}, "axis": {"orient": "bottom", "values": [-30, -25, -20, -15, -10, -5], "tickSize": -12, "labelPadding": 21, "title": null}},
  "y": {"field": "v", "type": "quantitative", "scale": {"domain": [-1.26, 1.26], "nice": false, "zero": false}, "axis": {"orient": "left", "values": [-1, 1], "labels": false, "tickSize": -12, "title": null}},
  "color": {"field": "s", "type": "nominal", "scale": {"domain": ["Flow Tendency", "Anom Div Horz EP Flux", "Anom Friction"], "range": ["#0000ff", "#008000", "#ff0000"]}, "legend": {"title": null, "orient": "none", "legendX": 806, "legendY": 22}},
  "strokeDash": {"field": "s", "type": "nominal", "scale": {"domain": ["Flow Tendency", "Anom Div Horz EP Flux", "Anom Friction"], "range": [[1, 0], [17, 12], [1.5, 10.5]]}, "legend": {"title": null, "orient": "none", "legendX": 806, "legendY": 22}}
 }},
{"data": {"name": "curves"}, "transform": [{"filter": "datum.p == 'C' && datum.s == 'Anom Div Horz EP Flux'"}],
 "mark": {"type": "line", "strokeWidth": 8, "interpolate": "monotone", "clip": true},
 "encoding": {
  "x": {"field": "lat", "type": "quantitative", "scale": {"domain": [-34.17, -0.86], "nice": false, "zero": false}, "axis": {"orient": "top", "values": [-30, -25, -20, -15, -10, -5], "labels": false, "tickSize": -12, "title": null}},
  "y": {"field": "v", "type": "quantitative", "scale": {"domain": [-1.26, 1.26], "nice": false, "zero": false}, "axis": {"orient": "right", "values": [-1, 1], "labels": false, "tickSize": -12, "title": null}},
  "color": {"field": "s", "type": "nominal", "scale": {"domain": ["Flow Tendency", "Anom Div Horz EP Flux", "Anom Friction"], "range": ["#0000ff", "#008000", "#ff0000"]}},
  "strokeDash": {"field": "s", "type": "nominal", "scale": {"domain": ["Flow Tendency", "Anom Div Horz EP Flux", "Anom Friction"], "range": [[1, 0], [17, 12], [1.5, 10.5]]}}
 }},
{"data": {"name": "curves"}, "transform": [{"filter": "datum.p == 'C' && datum.s == 'Anom Friction'"}],
 "mark": {"type": "line", "strokeWidth": 8, "interpolate": "monotone", "clip": true},
 "encoding": {
  "x": {"field": "lat", "type": "quantitative", "scale": {"domain": [-34.17, -0.86], "nice": false, "zero": false}, "axis": null},
  "y": {"field": "v", "type": "quantitative", "scale": {"domain": [-1.26, 1.26], "nice": false, "zero": false}, "axis": null},
  "color": {"field": "s", "type": "nominal", "scale": {"domain": ["Flow Tendency", "Anom Div Horz EP Flux", "Anom Friction"], "range": ["#0000ff", "#008000", "#ff0000"]}},
  "strokeDash": {"field": "s", "type": "nominal", "scale": {"domain": ["Flow Tendency", "Anom Div Horz EP Flux", "Anom Friction"], "range": [[1, 0], [17, 12], [1.5, 10.5]]}}
 }},
{"data": {"values": [{"label": "Phase C"}]},
 "mark": {"type": "text", "align": "left", "baseline": "alphabetic", "fontSize": 38, "fontWeight": "bold", "dx": 2, "dy": -1, "color": "black"},
 "encoding": {
  "x": {"datum": -34.17, "type": "quantitative", "scale": {"domain": [-34.17, -0.86], "nice": false, "zero": false}, "axis": null},
  "y": {"datum": -1.26, "type": "quantitative", "scale": {"domain": [-1.26, 1.26], "nice": false, "zero": false}, "axis": null},
  "text": {"field": "label"}
 }}
]
},
{
"width": 1199, "height": 136,
"title": {"text": "x 10⁻⁵", "anchor": "start", "fontSize": 28, "fontWeight": "normal", "offset": 7, "color": "black"},
"resolve": {"axis": {"x": "independent", "y": "independent"}},
"layer": [
{"data": {"name": "marks"}, "transform": [{"filter": "datum.p == 'D'"}],
 "mark": {"type": "rule", "color": "black", "strokeWidth": 1, "strokeDash": [11, 8]},
 "encoding": {"x": {"field": "lat", "type": "quantitative", "scale": {"domain": [-34.17, -0.86], "nice": false, "zero": false}, "axis": null}}},
{"data": {"name": "curves"}, "transform": [{"filter": "datum.p == 'D' && datum.s == 'Flow Tendency'"}],
 "mark": {"type": "line", "strokeWidth": 8, "interpolate": "monotone", "clip": true},
 "encoding": {
  "x": {"field": "lat", "type": "quantitative", "scale": {"domain": [-34.17, -0.86], "nice": false, "zero": false}, "axis": {"orient": "bottom", "values": [-30, -25, -20, -15, -10, -5], "tickSize": -12, "labelPadding": 21, "title": "Latitude (deg)", "titleFontSize": 37, "titleFontWeight": "bold", "titlePadding": 4}},
  "y": {"field": "v", "type": "quantitative", "scale": {"domain": [-1.26, 1.26], "nice": false, "zero": false}, "axis": {"orient": "left", "values": [-1, 1], "labels": false, "tickSize": -12, "title": null}},
  "color": {"field": "s", "type": "nominal", "scale": {"domain": ["Flow Tendency", "Anom Div Horz EP Flux", "Anom Friction"], "range": ["#0000ff", "#008000", "#ff0000"]}, "legend": {"title": null, "orient": "none", "legendX": 806, "legendY": 22}},
  "strokeDash": {"field": "s", "type": "nominal", "scale": {"domain": ["Flow Tendency", "Anom Div Horz EP Flux", "Anom Friction"], "range": [[1, 0], [17, 12], [1.5, 10.5]]}, "legend": {"title": null, "orient": "none", "legendX": 806, "legendY": 22}}
 }},
{"data": {"name": "curves"}, "transform": [{"filter": "datum.p == 'D' && datum.s == 'Anom Div Horz EP Flux'"}],
 "mark": {"type": "line", "strokeWidth": 8, "interpolate": "monotone", "clip": true},
 "encoding": {
  "x": {"field": "lat", "type": "quantitative", "scale": {"domain": [-34.17, -0.86], "nice": false, "zero": false}, "axis": {"orient": "top", "values": [-30, -25, -20, -15, -10, -5], "labels": false, "tickSize": -12, "title": null}},
  "y": {"field": "v", "type": "quantitative", "scale": {"domain": [-1.26, 1.26], "nice": false, "zero": false}, "axis": {"orient": "right", "values": [-1, 1], "labels": false, "tickSize": -12, "title": null}},
  "color": {"field": "s", "type": "nominal", "scale": {"domain": ["Flow Tendency", "Anom Div Horz EP Flux", "Anom Friction"], "range": ["#0000ff", "#008000", "#ff0000"]}},
  "strokeDash": {"field": "s", "type": "nominal", "scale": {"domain": ["Flow Tendency", "Anom Div Horz EP Flux", "Anom Friction"], "range": [[1, 0], [17, 12], [1.5, 10.5]]}}
 }},
{"data": {"name": "curves"}, "transform": [{"filter": "datum.p == 'D' && datum.s == 'Anom Friction'"}],
 "mark": {"type": "line", "strokeWidth": 8, "interpolate": "monotone", "clip": true},
 "encoding": {
  "x": {"field": "lat", "type": "quantitative", "scale": {"domain": [-34.17, -0.86], "nice": false, "zero": false}, "axis": null},
  "y": {"field": "v", "type": "quantitative", "scale": {"domain": [-1.26, 1.26], "nice": false, "zero": false}, "axis": null},
  "color": {"field": "s", "type": "nominal", "scale": {"domain": ["Flow Tendency", "Anom Div Horz EP Flux", "Anom Friction"], "range": ["#0000ff", "#008000", "#ff0000"]}},
  "strokeDash": {"field": "s", "type": "nominal", "scale": {"domain": ["Flow Tendency", "Anom Div Horz EP Flux", "Anom Friction"], "range": [[1, 0], [17, 12], [1.5, 10.5]]}}
 }},
{"data": {"values": [{"label": "Phase D"}]},
 "mark": {"type": "text", "align": "left", "baseline": "alphabetic", "fontSize": 38, "fontWeight": "bold", "dx": 2, "dy": -1, "color": "black"},
 "encoding": {
  "x": {"datum": -34.17, "type": "quantitative", "scale": {"domain": [-34.17, -0.86], "nice": false, "zero": false}, "axis": null},
  "y": {"datum": -1.26, "type": "quantitative", "scale": {"domain": [-1.26, 1.26], "nice": false, "zero": false}, "axis": null},
  "text": {"field": "label"}
 }}
]
}
],
"config": {
 "font": "Liberation Sans",
 "view": {"stroke": "black", "strokeWidth": 1.5},
 "axis": {"grid": false, "domain": false, "tickColor": "black", "tickWidth": 1.5, "labelColor": "black", "labelFont": "Liberation Sans", "labelFontSize": 26, "titleFont": "Liberation Sans", "titleColor": "black"},
 "legend": {"symbolType": "stroke", "symbolStrokeWidth": 8, "symbolSize": 2116, "clipHeight": 27, "labelFont": "Liberation Sans", "labelFontSize": 27, "labelColor": "black", "labelLimit": 0, "strokeColor": "black", "fillColor": "white", "padding": 5, "rowPadding": 4, "labelOffset": 10, "symbolOffset": 7},
 "title": {"color": "black", "font": "Liberation Sans"}
}
}
